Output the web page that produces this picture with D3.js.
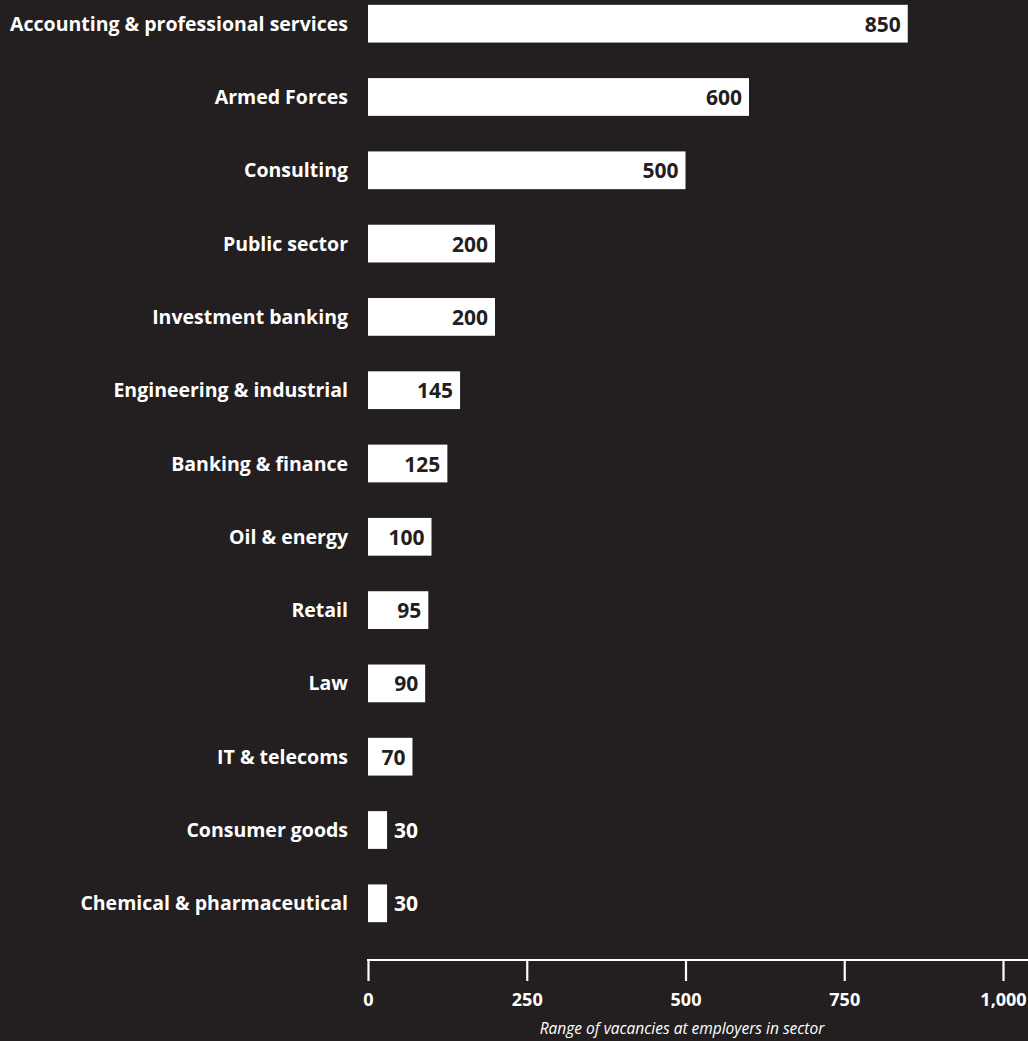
<!DOCTYPE html>
<html>
<head>
<meta charset="utf-8">
<script src="https://cdn.jsdelivr.net/npm/d3@7"></script>
<style>
  html, body { margin: 0; padding: 0; background: #231f20; }
  svg { display: block; }
</style>
</head>
<body>
<script>
// Graduate vacancies by sector
const sectors = [
  "Accounting & professional services",
  "Armed Forces",
  "Consulting",
  "Public sector",
  "Investment banking",
  "Engineering & industrial",
  "Banking & finance",
  "Oil & energy",
  "Retail",
  "Law",
  "IT & telecoms",
  "Consumer goods",
  "Chemical & pharmaceutical"
];
const vacancies = [850, 600, 500, 200, 200, 145, 125, 100, 95, 90, 70, 30, 30];
const tickValues = [0, 250, 500, 750, 1000];
const axisTitle = "Range of vacancies at employers in sector";

const W = 1028, H = 1041;
const bg = "#231f20";
const font = "'Open Sans', sans-serif";

const svg = d3.select("body").append("svg")
  .attr("width", W).attr("height", H);

svg.append("rect").attr("width", W).attr("height", H).attr("fill", bg);

const x = d3.scaleLinear().domain([0, 1000]).range([368, 1003]);
const y = d3.scaleBand().domain(sectors).range([-13, 940]).paddingInner(0.485).paddingOuter(0.243);

const rows = sectors.map((s, i) => ({ sector: s, value: vacancies[i] }));

// Bars
svg.append("g").selectAll("rect").data(rows).join("rect")
  .attr("x", x(0))
  .attr("y", d => y(d.sector))
  .attr("width", d => x(d.value) - x(0))
  .attr("height", y.bandwidth())
  .attr("fill", "#ffffff");

// Sector names
svg.append("g").selectAll("text").data(rows).join("text")
  .attr("x", 348)
  .attr("y", d => y(d.sector) + y.bandwidth() / 2 + 7)
  .attr("text-anchor", "end")
  .attr("fill", "#ffffff")
  .attr("font-family", font)
  .attr("font-weight", 700)
  .attr("font-size", 19.5)
  .text(d => d.sector);

// Value labels: inside the bar when it is wide enough, otherwise just after it
svg.append("g").selectAll("text").data(rows).join("text")
  .each(function(d) {
    const inside = (x(d.value) - x(0)) > 35;
    d3.select(this)
      .attr("x", inside ? x(d.value) - 7 : x(d.value) + 7)
      .attr("text-anchor", inside ? "end" : "start")
      .attr("fill", inside ? bg : "#ffffff");
  })
  .attr("y", d => y(d.sector) + y.bandwidth() / 2 + 8)
  .attr("font-family", font)
  .attr("font-weight", 700)
  .attr("font-size", 21)
  .text(d => d3.format(",")(d.value));

// Axis
const axisY = 960;
const ax = svg.append("g").attr("transform", `translate(0,${axisY})`);
ax.append("line")
  .attr("x1", x(0) - 1).attr("x2", W)
  .attr("y1", 0).attr("y2", 0)
  .attr("stroke", "#ffffff").attr("stroke-width", 2.2);

const axis = d3.axisBottom(x)
  .tickValues(tickValues)
  .tickSize(21)
  .tickFormat(d3.format(","));
const axG = ax.append("g").call(axis);
axG.select(".domain").remove();
axG.selectAll(".tick line").attr("stroke", "#ffffff").attr("stroke-width", 2.2);
axG.selectAll(".tick text")
  .attr("fill", "#ffffff")
  .attr("font-family", font)
  .attr("font-weight", 700)
  .attr("font-size", 18)
  .attr("dy", 0)
  .attr("y", 46);

svg.append("text")
  .attr("x", 682)
  .attr("y", 1034)
  .attr("text-anchor", "middle")
  .attr("fill", "#ffffff")
  .attr("font-family", font)
  .attr("font-style", "italic")
  .attr("font-size", 15.5)
  .text(axisTitle);
</script>
</body>
</html>
